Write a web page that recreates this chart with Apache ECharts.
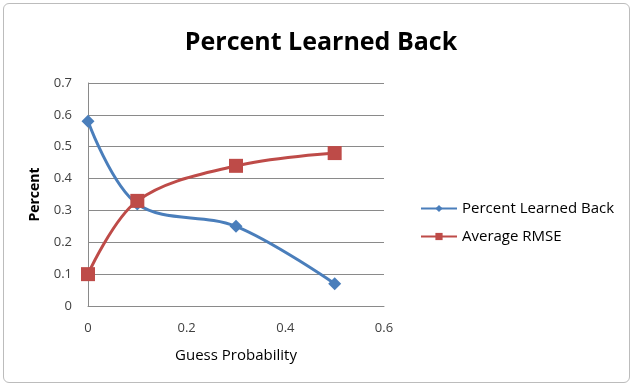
<!DOCTYPE html>
<html>
<head>
<meta charset="utf-8">
<script src="https://cdn.jsdelivr.net/npm/echarts@6/dist/echarts.min.js"></script>
<style>
  html, body { margin: 0; padding: 0; background: #fff; }
  .frame {
    position: absolute; left: 3px; top: 3px;
    width: 625px; height: 378px;
    border: 1px solid #bcbcbc; border-radius: 6px;
  }
  #chart { width: 639px; height: 388px; }
</style>
</head>
<body>
<div class="frame"></div>
<div id="chart"></div>
<script>
const guessProb = [0, 0.1, 0.3, 0.5]
const learnedBack = [0.58, 0.32, 0.25, 0.07]
const avgRmse = [0.10, 0.33, 0.44, 0.48]
const seriesNames = ['Percent Learned Back', 'Average RMSE']

const chart = echarts.init(document.getElementById('chart'))

function pairs(ys) {
  return guessProb.map((x, i) => [x, ys[i]])
}

const labelFont = { color: '#404040', fontSize: 13, fontFamily: 'Open Sans' }

chart.setOption({
  animation: false,
  title: {
    text: 'Percent Learned Back',
    left: 316,
    top: 25,
    textAlign: 'center',
    textStyle: { fontSize: 25, fontWeight: 'bold', color: '#000', fontFamily: 'Open Sans' }
  },
  legend: {
    data: seriesNames,
    orient: 'vertical',
    left: 415,
    top: 196,
    itemGap: 13,
    itemWidth: 36,
    itemHeight: 9,
    textStyle: { color: '#000', fontSize: 15, fontFamily: 'Open Sans' }
  },
  grid: { left: 88, right: 255, top: 83, bottom: 82 },
  xAxis: {
    type: 'value',
    min: 0,
    max: 0.6,
    interval: 0.2,
    name: 'Guess Probability',
    nameLocation: 'middle',
    nameGap: 42,
    nameTextStyle: { color: '#000', fontSize: 15, fontFamily: 'Open Sans' },
    axisLine: { show: true, lineStyle: { color: '#8a8a8a' } },
    axisTick: { show: false },
    axisLabel: Object.assign({ margin: 16 }, labelFont),
    splitLine: { show: false }
  },
  yAxis: {
    type: 'value',
    min: 0,
    max: 0.7,
    interval: 0.1,
    name: 'Percent',
    nameLocation: 'middle',
    nameGap: 46,
    nameTextStyle: { color: '#000', fontSize: 14, fontWeight: 'bold', fontFamily: 'Open Sans' },
    axisLine: { show: true, lineStyle: { color: '#8a8a8a' } },
    axisTick: { show: false },
    axisLabel: Object.assign({ margin: 16 }, labelFont),
    splitLine: { lineStyle: { color: '#8a8a8a' } }
  },
  series: [
    {
      name: seriesNames[0],
      type: 'line',
      data: pairs(learnedBack),
      smooth: 0.35,
      symbol: 'diamond',
      symbolSize: 13,
      itemStyle: { color: '#4a7ebb' },
      lineStyle: { width: 3, color: '#4a7ebb' }
    },
    {
      name: seriesNames[1],
      type: 'line',
      data: pairs(avgRmse),
      smooth: 0.35,
      symbol: 'rect',
      symbolSize: 14,
      itemStyle: { color: '#be4b48' },
      lineStyle: { width: 3, color: '#be4b48' }
    }
  ]
})
</script>
</body>
</html>
